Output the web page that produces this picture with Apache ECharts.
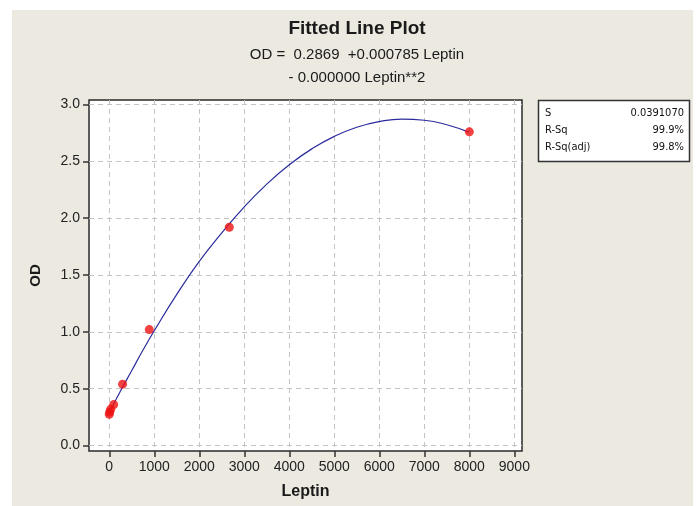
<!DOCTYPE html>
<html>
<head>
<meta charset="utf-8">
<script src="https://cdn.jsdelivr.net/npm/echarts@6/dist/echarts.min.js"></script>
<style>
  html, body { margin: 0; padding: 0; background: #ffffff; }
  #chart { width: 699px; height: 506px; }
</style>
</head>
<body>
<div id="chart"></div>
<script>
// Observed standards: leptin concentration vs optical density
const leptin = [0, 11, 33, 99, 296, 889, 2667, 8000];
const od = [0.275, 0.295, 0.32, 0.36, 0.54, 1.02, 1.92, 2.76];

// Fitted quadratic curve, sampled along the leptin range
const fitLeptin = [0, 250, 500, 750, 1000, 1500, 2000, 2500, 3000, 3500, 4000, 4500, 5000, 5500, 6000, 6500, 7000, 7500, 8000];
const fitOD = [0.29, 0.48, 0.66, 0.84, 1.01, 1.33, 1.62, 1.87, 2.10, 2.30, 2.47, 2.61, 2.72, 2.80, 2.85, 2.872, 2.862, 2.822, 2.755];

// Axis ticks
const xTicks = [0, 1000, 2000, 3000, 4000, 5000, 6000, 7000, 8000, 9000];
const yTicks = [0, 0.5, 1.0, 1.5, 2.0, 2.5, 3.0];

// Header text and summary statistics
const titleText = 'Fitted Line Plot';
const equationLines = ['OD =  0.2869  +0.000785 Leptin', '- 0.000000 Leptin**2'];
const statNames = ['S', 'R-Sq', 'R-Sq(adj)'];
const statValues = ['0.0391070', '99.9%', '99.8%'];

const FONT = 'Liberation Sans';
const chart = echarts.init(document.getElementById('chart'), null, { renderer: 'canvas' });

const statTexts = [];
statNames.forEach((n, i) => {
  statTexts.push({
    type: 'text', left: 545, top: 108 + i * 17,
    style: { text: n, font: '11px "DejaVu Sans Condensed"', fill: '#111' }
  });
  statTexts.push({
    type: 'text', right: 15, top: 108 + i * 17,
    style: { text: statValues[i], font: '11px "DejaVu Sans Condensed"', fill: '#111', align: 'right' }
  });
});

const option = {
  backgroundColor: '#ffffff',
  animation: false,
  title: {
    text: titleText,
    subtext: equationLines.join('\n'),
    left: 352, textAlign: 'center', top: 14,
    itemGap: 5,
    textStyle: { fontFamily: FONT, fontWeight: 'bold', fontSize: 19, color: '#1a1a1a' },
    subtextStyle: { fontFamily: FONT, fontSize: 15, color: '#1a1a1a', lineHeight: 23 }
  },
  graphic: [
    { type: 'rect', z: -10, silent: true, shape: { x: 12, y: 10, width: 681, height: 496 }, style: { fill: '#ECE9E0' } },
    { type: 'rect', shape: { x: 538.5, y: 100.5, width: 151, height: 61 }, style: { fill: '#ffffff', stroke: '#333', lineWidth: 1.5 } }
  ].concat(statTexts),
  grid: { left: 89, top: 100, width: 433, height: 351, show: true, backgroundColor: '#ffffff', borderColor: '#2a2a2a', borderWidth: 1.5 },
  xAxis: {
    type: 'value', min: -450, max: 9170,
    name: 'Leptin', nameLocation: 'middle', nameGap: 33,
    nameTextStyle: { fontFamily: FONT, fontWeight: 'bold', fontSize: 16, color: '#1a1a1a' },
    axisLine: { show: false, onZero: false },
    axisTick: { show: true, inside: false, customValues: xTicks, length: 6, lineStyle: { color: '#333', width: 1.5 } },
    axisLabel: { customValues: xTicks, fontFamily: FONT, fontSize: 14, color: '#222', margin: 9, formatter: v => String(v) },
    splitLine: { show: true, lineStyle: { color: '#c4c4c4', type: [5, 4], width: 1 } }
  },
  yAxis: {
    type: 'value', min: -0.048, max: 3.04,
    name: 'OD', nameLocation: 'middle', nameGap: 46, nameRotate: 90,
    nameTextStyle: { fontFamily: FONT, fontWeight: 'bold', fontSize: 15, color: '#1a1a1a' },
    axisLine: { show: false, onZero: false },
    axisTick: { show: true, inside: false, customValues: yTicks, length: 6, lineStyle: { color: '#333', width: 1.5 } },
    axisLabel: { customValues: yTicks, fontFamily: FONT, fontSize: 14, color: '#222', margin: 9, formatter: v => v.toFixed(1) },
    splitLine: { show: true, lineStyle: { color: '#c4c4c4', type: [5, 4], width: 1 } }
  },
  series: [
    {
      type: 'line', name: 'Fit', smooth: 0.5, showSymbol: false,
      data: fitLeptin.map((x, i) => [x, fitOD[i]]),
      lineStyle: { color: '#2b2b9e', width: 1.2 }, z: 2
    },
    {
      type: 'scatter', name: 'Observed', symbol: 'circle', symbolSize: 9,
      data: leptin.map((x, i) => [x, od[i]]),
      itemStyle: { color: '#ee1111' }, z: 3
    }
  ]
};
chart.setOption(option);
</script>
</body>
</html>
